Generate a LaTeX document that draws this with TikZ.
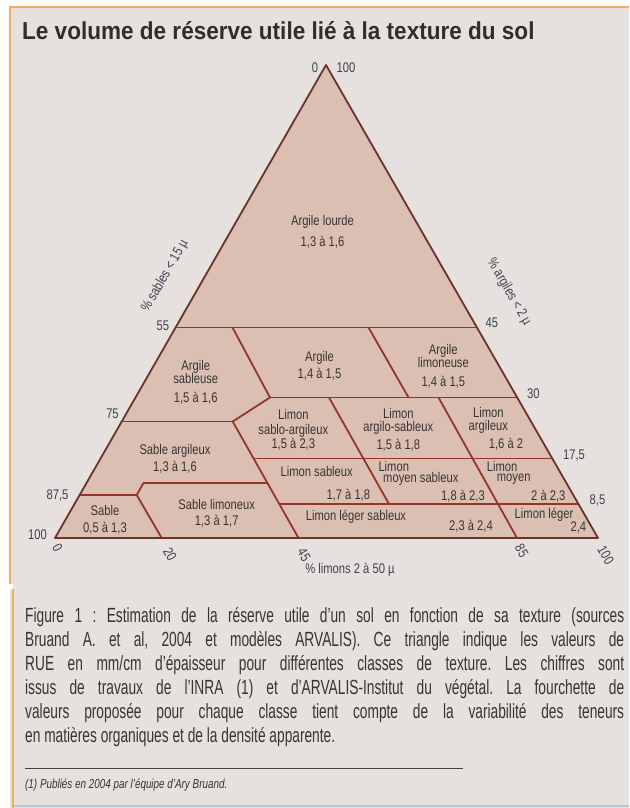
\documentclass[tikz,border=0pt]{standalone}
\usepackage{fontspec}
\setmainfont{Liberation Sans}
\newfontfamily\cnd[FakeStretch=0.8]{Liberation Sans}
\newfontfamily\ttlfont[FakeStretch=0.92]{Liberation Sans}
\newfontfamily\capfont[FakeStretch=0.67]{Liberation Sans}
\newfontfamily\notefont[FakeStretch=0.76]{Liberation Sans}
\definecolor{bgc}{RGB}{230,224,222}
\definecolor{trifill}{RGB}{219,191,179}
\definecolor{innerl}{RGB}{150,52,42}
\definecolor{outerl}{RGB}{105,52,44}
\definecolor{framec}{RGB}{242,172,95}
\definecolor{bluel}{RGB}{175,200,228}
\definecolor{txt}{RGB}{55,52,52}
\definecolor{numc}{RGB}{62,66,80}
\tikzset{
  inner/.style={draw=innerl, line width=1.8pt, line join=round},
  outer/.style={draw=outerl, line width=1.8pt, line join=round},
  lab/.style={inner sep=0pt, text=txt, align=center,
    font=\cnd\fontsize{14}{13.5}\selectfont},
  num/.style={inner sep=0pt, text=numc, font=\cnd\fontsize{14}{14}\selectfont},
  capline/.style={anchor=base west, inner sep=0pt, text=txt,
    font=\capfont\fontsize{20.5}{20}\selectfont\frenchspacing},
}
\begin{document}
\begin{tikzpicture}[x=1pt,y=-1pt]
\useasboundingbox (0,0) rectangle (629,808);
\fill[white] (0,0) rectangle (629,808);
\fill[bgc] (10,7) rectangle (629,808);
\fill[white] (0,584) rectangle (13,589);
\draw[framec, line width=2pt] (629,7) -- (10,7) -- (10,584);
\draw[framec, line width=2pt] (13,589) -- (13,808);
\draw[bluel, line width=2pt] (13,806) -- (629,806);

% title
\node[anchor=base west, inner sep=0pt, text=black!82,
  font=\ttlfont\bfseries\fontsize{24.5}{26}\selectfont] (title) at (22,40)
  {Le volume de réserve utile lié à la texture du sol};

% triangle
\coordinate (A) at (326,65);
\coordinate (L) at (55,538);
\coordinate (R) at (598,538);
\fill[trifill] (A) -- (L) -- (R) -- cycle;

\coordinate (h45l) at (175.6,327.5);
\coordinate (h45r) at (478.4,327.5);
\coordinate (as1) at (232.5,327.5);
\coordinate (as2) at (270,397.5);
\coordinate (as3) at (232.7,421.5);
\coordinate (h25l) at (121.7,421.5);
\coordinate (h30r) at (517.5,397.5);
\coordinate (al1) at (368.5,327.5);
\coordinate (al2) at (408.5,397.5);
\coordinate (c0) at (298.5,538);
\coordinate (da1) at (329,397.5);
\coordinate (da2) at (389,504);
\coordinate (db1) at (438.5,397.5);
\coordinate (db2) at (517,538);
\coordinate (h17l) at (253.6,458.5);
\coordinate (h17r) at (552.5,458.5);
\coordinate (h8l) at (279.3,504);
\coordinate (h8r) at (578.5,504);
\coordinate (sl1) at (136.7,495);
\coordinate (sl2) at (143.5,483);
\coordinate (sl3) at (267.4,483);
\coordinate (sl0) at (79.6,495);
\coordinate (sb) at (161.7,538);

\draw[inner] (h45l) -- (h45r);
\draw[inner] (as1) -- (as2) -- (as3);
\draw[inner] (h25l) -- (as3);
\draw[inner] (as2) -- (h30r);
\draw[inner] (al1) -- (al2);
\draw[inner] (as3) -- (c0);
\draw[inner] (da1) -- (da2);
\draw[inner] (db1) -- (db2);
\draw[inner] (h17l) -- (h17r);
\draw[inner] (h8l) -- (h8r);
\draw[inner] (sl1) -- (sl2) -- (sl3);
\draw[inner] (sl0) -- (sl1) -- (sb);
\draw[outer] (A) -- (L) -- (R) -- cycle;

% class labels
\node[lab] (n1) at (322.5,232) {Argile lourde\\[8pt]1,3 à 1,6};
\node[lab] (n2) at (195.7,382) {Argile\\sableuse\\[5pt]1,5 à 1,6};
\node[lab] (n3) at (319.5,366) {Argile\\[4pt]1,4 à 1,5};
\node[lab] (n4) at (443.3,366) {Argile\\limoneuse\\[5pt]1,4 à 1,5};
\node[lab] (n5) at (293.3,430) {Limon\\[1pt]sablo-argileux\\[1pt]1,5 à 2,3};
\node[lab] (n6) at (398.3,429.5) {Limon\\argilo-sableux\\[4pt]1,5 à 1,8};
\node[lab] (n7) at (488.3,420.3) {Limon\\argileux};
\node[lab] (n7b) at (506,444.5) {1,6 à 2};
\node[lab] (n8) at (175,458.7) {Sable argileux\\[3pt]1,3 à 1,6};
\node[lab] (n9) at (316.7,471.7) {Limon sableux};
\node[lab] (n9b) at (348.3,495) {1,7 à 1,8};
\node[lab, anchor=west] (n10) at (378.3,466.7) {Limon};
\node[lab, anchor=west] (n10a) at (383,479.3) {moyen sableux};
\node[lab] (n10b) at (463,496) {1,8 à 2,3};
\node[lab, anchor=west] (n11) at (486.7,466.7) {Limon};
\node[lab, anchor=west] (n11a) at (496.7,479.3) {moyen};
\node[lab] (n11b) at (548.3,496) {2 à 2,3};
\node[lab] (n12) at (356,516.7) {Limon léger sableux};
\node[lab] (n12b) at (471,526) {2,3 à 2,4};
\node[lab] (n13) at (544,515) {Limon léger};
\node[lab] (n13b) at (578.3,528) {2,4};
\node[lab] (n14) at (105,519.7) {Sable\\[3pt]0,5 à 1,3};
\node[lab] (n15) at (216.7,513.3) {Sable limoneux\\[3pt]1,3 à 1,7};

% axis numbers
\node[num] (t0) at (315,68) {0};
\node[num] (t100) at (346,68) {100};
\node[num] (l55) at (162.8,326) {55};
\node[num] (l75) at (112.5,413.8) {75};
\node[num] (l875) at (57.5,495.8) {87,5};
\node[num] (l100) at (37.5,535) {100};
\node[num] (r45) at (491.8,322.5) {45};
\node[num] (r30) at (533.3,394) {30};
\node[num] (r175) at (574,455.8) {17,5};
\node[num] (r85) at (597.5,500.8) {8,5};
\node[num, rotate=-60] (b0) at (57.5,547.5) {0};
\node[num, rotate=-60] (b20) at (170,554) {20};
\node[num, rotate=-60] (b45) at (304,555) {45};
\node[num, rotate=-60] (b85) at (521.7,550.8) {85};
\node[num, rotate=-60] (b100) at (605.8,555) {100};
\node[num] (xlab) at (350,570) {\% limons 2 à 50 µ};
\node[num, rotate=60] (ylab) at (165,276) {\% sables < 15 µ};
\node[num, rotate=-60] (zlab) at (509,292) {\% argiles < 2 µ};

% caption
\node[capline] (c1) at (25,622) {\makebox[599pt][s]{Figure 1 : Estimation de la réserve utile d’un sol en fonction de sa texture (sources}};
\node[capline] (c2) at (25,646) {\makebox[599pt][s]{Bruand A. et al, 2004 et modèles ARVALIS). Ce triangle indique les valeurs de}};
\node[capline] (c3) at (25,670) {\makebox[599pt][s]{RUE en mm/cm d’épaisseur pour différentes classes de texture. Les chiffres sont}};
\node[capline] (c4) at (25,694) {\makebox[599pt][s]{issus de travaux de l’INRA (1) et d’ARVALIS-Institut du végétal. La fourchette de}};
\node[capline] (c5) at (25,718) {\makebox[599pt][s]{valeurs proposée pour chaque classe tient compte de la variabilité des teneurs}};
\node[capline] (c6) at (25,742) {en matières organiques et de la densité apparente.};

\coordinate (rl) at (25,768);
\coordinate (rr) at (463,768);
\draw[black!75, line width=1pt] (rl) -- (rr);
\node[anchor=base west, inner sep=0pt, text=txt,
  font=\notefont\itshape\fontsize{13}{14}\selectfont] (fn) at (25,788)
  {(1) Publiés en 2004 par l’équipe d’Ary Bruand.};
\end{tikzpicture}
\end{document}
